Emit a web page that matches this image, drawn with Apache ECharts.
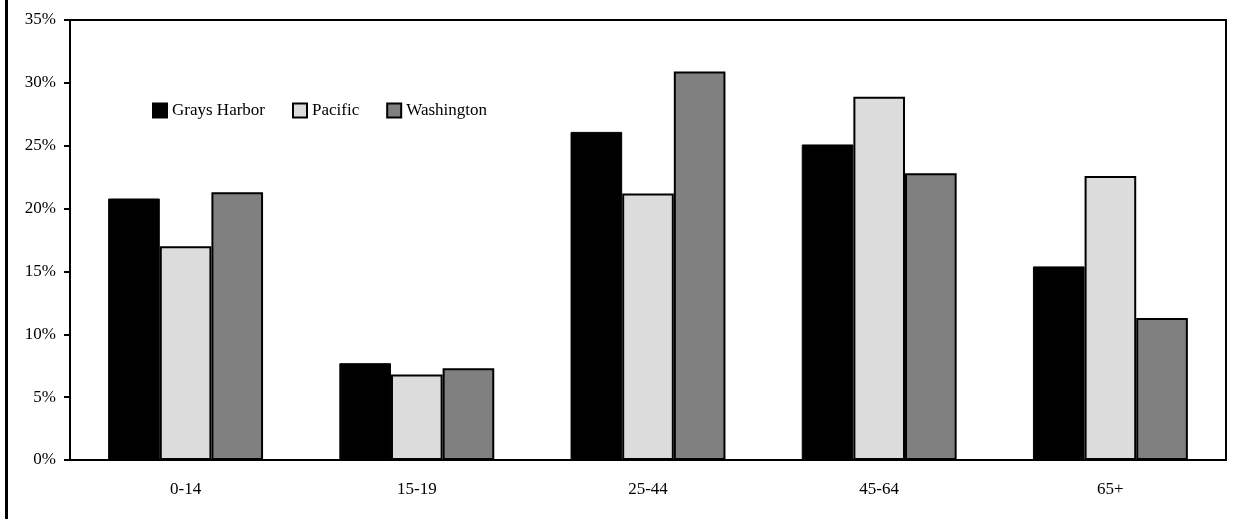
<!DOCTYPE html>
<html><head><meta charset="utf-8">
<script src="https://cdn.jsdelivr.net/npm/echarts@6/dist/echarts.min.js"></script>
<style>html,body{margin:0;padding:0;background:#fff}#c{width:1243px;height:519px}</style>
</head><body><div id="c"></div>
<script>
const categories = ['0-14', '15-19', '25-44', '45-64', '65+'];
const graysHarbor = [20.8, 7.7, 26.1, 25.1, 15.4];
const pacific = [17.0, 6.8, 21.2, 28.9, 22.6];
const washington = [21.3, 7.3, 30.9, 22.8, 11.3];
const seriesNames = ['Grays Harbor', 'Pacific', 'Washington'];

const font = '"Liberation Serif", "DejaVu Serif", serif';
const chart = echarts.init(document.getElementById('c'));
const mk = (name, data, color, bw) => ({
  name, type: 'bar', data, barGap: '0%', barCategoryGap: '33%',
  itemStyle: { color, borderColor: '#000', borderWidth: bw },
  emphasis: { disabled: true }, animation: false
});
chart.setOption({
  animation: false,
  textStyle: { fontFamily: font },
  grid: { left: 70, right: 17, top: 20, bottom: 59, show: true, borderColor: '#000', borderWidth: 2, backgroundColor: 'transparent' },
  legend: {
    left: 147, top: 97, itemWidth: 14, itemHeight: 14, itemGap: 27,
    icon: 'rect',
    data: seriesNames,
    textStyle: { fontFamily: font, fontSize: 17, color: '#000' }
  },
  xAxis: {
    type: 'category', data: categories,
    axisLine: { lineStyle: { color: '#000', width: 2 } },
    axisTick: { show: false },
    axisLabel: { fontFamily: font, fontSize: 17, color: '#000', margin: 21 }
  },
  yAxis: {
    type: 'value', min: 0, max: 35, interval: 5,
    splitLine: { show: false },
    axisLine: { show: true, lineStyle: { color: '#000', width: 2 } },
    axisTick: { show: true, inside: false, length: 6, lineStyle: { color: '#000', width: 2 } },
    axisLabel: { fontFamily: font, fontSize: 17, color: '#000', margin: 14, formatter: '{value}%' }
  },
  series: [
    mk(seriesNames[0], graysHarbor, '#000', 1),
    mk(seriesNames[1], pacific, '#dcdcdc', 2),
    mk(seriesNames[2], washington, '#808080', 2)
  ],
  graphic: [{ type: 'rect', shape: { x: 5, y: -2, width: 3, height: 530 }, style: { fill: '#000' } }]
});
</script></body></html>
